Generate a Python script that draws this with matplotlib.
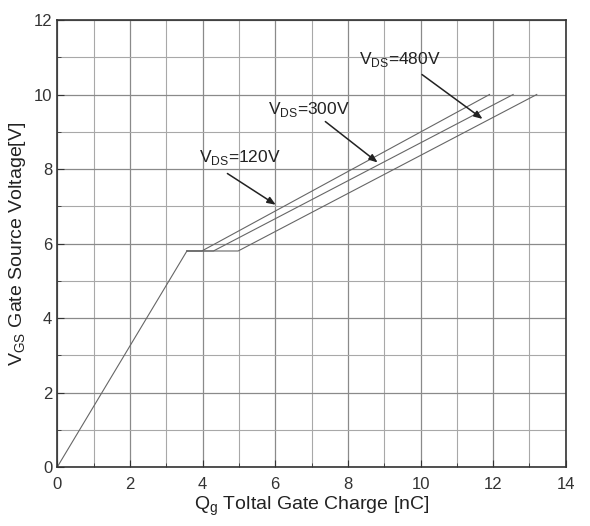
import numpy as np
import matplotlib.pyplot as plt
from matplotlib.ticker import MultipleLocator

plt.rcParams['font.family'] = ['Liberation Sans Narrow', 'Liberation Sans', 'DejaVu Sans']
plt.rcParams['mathtext.fontset'] = 'custom'
plt.rcParams['mathtext.rm'] = 'Liberation Sans'

# gate charge curves: Qg [nC] vs VGS [V]
q_rise = [0.0, 3.57]
v_rise = [0.0, 5.8]
vds_labels = ['120V', '300V', '480V']
q_plateau_end = [3.98, 4.3, 4.98]
q_end = [11.9, 12.55, 13.2]
v_plateau = 5.8
v_end = 10.0

# annotation text position and arrow tips (data units)
text_xy = [(3.9, 8.3), (5.8, 9.6), (8.3, 10.95)]
arrow_start = [(4.62, 7.92), (7.32, 9.32), (9.98, 10.58)]
arrow_tip = [(6.08, 7.0), (8.88, 8.13), (11.77, 9.3)]

fig = plt.figure(figsize=(5.9, 5.26), dpi=100)
ax = fig.add_axes([0.097, 0.112, 0.862, 0.85])

line_col = '#666666'
ax.plot(q_rise, v_rise, color=line_col, lw=0.8)
for qp, qe in zip(q_plateau_end, q_end):
    ax.plot([q_rise[1], qp, qe], [v_plateau, v_plateau, v_end],
            color=line_col, lw=0.8)

for lab, txy, a0, a1 in zip(vds_labels, text_xy, arrow_start, arrow_tip):
    ax.text(txy[0], txy[1], r'V$_{\mathregular{DS}}$=' + lab, fontsize=12.5,
            color='#222222', va='center')
    ax.annotate('', xy=a1, xytext=a0,
                arrowprops=dict(arrowstyle='-|>,head_length=0.5,head_width=0.2',
                                color='#222222', lw=1.1, mutation_scale=10))

ax.set_xlim(0, 14)
ax.set_ylim(0, 12)
ax.xaxis.set_major_locator(MultipleLocator(2))
ax.xaxis.set_minor_locator(MultipleLocator(1))
ax.yaxis.set_major_locator(MultipleLocator(2))
ax.yaxis.set_minor_locator(MultipleLocator(1))
ax.grid(which='major', color='#8a8a8a', lw=0.9)
ax.grid(which='minor', color='#a8a8a8', lw=0.8)
ax.tick_params(which='both', direction='in', labelsize=12, colors='#333333',
               top=False, right=False)
ax.tick_params(axis='x', pad=7)
ax.tick_params(which='major', length=5)
ax.tick_params(which='minor', length=3)
for s in ax.spines.values():
    s.set_color('#333333')
    s.set_linewidth(1.2)

ax.set_xlabel(r'Q$_{\mathregular{g}}$ Toltal Gate Charge [nC]', fontsize=14,
              color='#222222', labelpad=2)
ax.set_ylabel(r'V$_{\mathregular{GS}}$ Gate Source Voltage[V]', fontsize=14,
              color='#222222', labelpad=4)

fig.savefig('out.png', dpi=100)
